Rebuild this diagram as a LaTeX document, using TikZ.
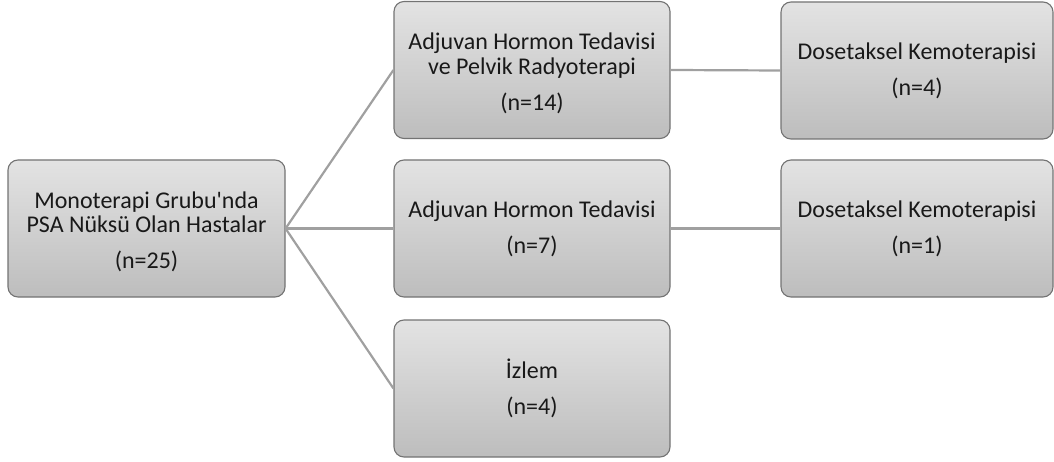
\documentclass[tikz,border=0pt]{standalone}
\usepackage{fontspec}
\setmainfont{Carlito}
\definecolor{boxtop}{HTML}{E3E3E3}
\definecolor{boxbot}{HTML}{BDBDBD}
\definecolor{boxline}{HTML}{737373}
\definecolor{linkc}{HTML}{A0A0A0}
\newcommand{\topgap}{\rule{0pt}{23pt}}
\tikzset{
  box/.style={draw=boxline, line width=1.1pt, rounded corners=10pt,
    top color=boxtop, bottom color=boxbot, align=center,
    text=black!90, inner sep=0pt,
    font=\fontsize{24}{24.5}\selectfont},
  bigbox/.style={box, minimum width=277pt, minimum height=137pt},
  rbox/.style={box, minimum width=272pt, minimum height=137pt},
  link/.style={draw=linkc, line width=2.2pt}
}
\begin{document}
\begin{tikzpicture}[x=1pt,y=-1pt]
\useasboundingbox (0,0) rectangle (1054,462);
\node[bigbox] (root) at (146.5,228.5) {\topgap Monoterapi Grubu\textquotesingle nda\\PSA Nüksü Olan Hastalar\\[11.5pt](n=25)};
\node[bigbox, minimum width=276pt] (m1) at (532,70) {\topgap Adjuvan Hormon Tedavisi\\ve Pelvik Radyoterapi\\[11.5pt](n=14)};
\node[bigbox, minimum width=276pt] (m2) at (532,228.5) {Adjuvan Hormon Tedavisi\\[11.5pt](n=7)};
\node[bigbox, minimum width=276pt] (m3) at (532,388.5) {İzlem\\[11.5pt](n=4)};
\node[rbox] (r1) at (917,70.5) {Dosetaksel Kemoterapisi\\[11.5pt](n=4)};
\node[rbox] (r2) at (917,228.5) {Dosetaksel Kemoterapisi\\[11.5pt](n=1)};
\draw[link] (root.east) -- (m1.west);
\draw[link] (root.east) -- (m2.west);
\draw[link] (root.east) -- (m3.west);
\draw[link] (m1.east) -- (r1.west);
\draw[link] (m2.east) -- (r2.west);
\end{tikzpicture}
\end{document}
